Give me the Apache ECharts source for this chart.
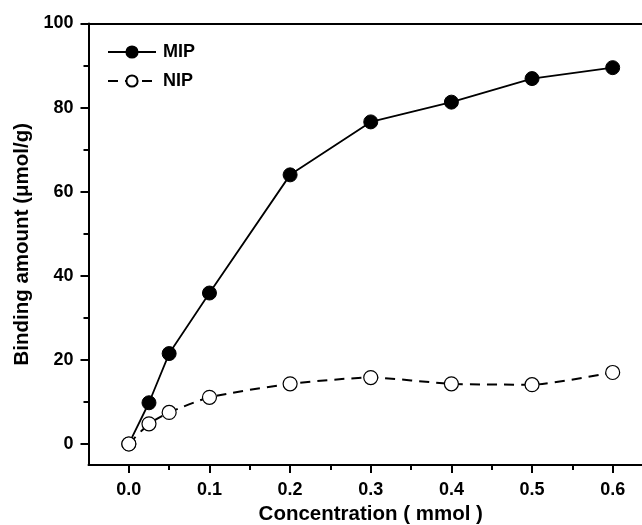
<!DOCTYPE html>
<html>
<head>
<meta charset="utf-8">
<script src="https://cdn.jsdelivr.net/npm/echarts@6/dist/echarts.min.js"></script>
<style>html,body{margin:0;padding:0;background:#fff}#c{width:642px;height:525px}</style>
</head>
<body>
<div id="c"></div>
<script>
const concentration = [0, 0.025, 0.05, 0.1, 0.2, 0.3, 0.4, 0.5, 0.6];
const mipValues = [0, 9.8, 21.5, 35.9, 64.0, 76.6, 81.3, 86.9, 89.5];
const nipValues = [0, 4.8, 7.5, 11.1, 14.3, 15.8, 14.3, 14.1, 17.0];
const xTicks = [0, 0.1, 0.2, 0.3, 0.4, 0.5, 0.6];
const xMinorTicks = [0.05, 0.15, 0.25, 0.35, 0.45, 0.55];
const yTicks = [0, 20, 40, 60, 80, 100];
const yMinorTicks = [10, 30, 50, 70, 90];

const pair = (xs, ys) => xs.map((x, i) => [x, ys[i]]);
const font = 'Liberation Sans, Arial, sans-serif';
const chart = echarts.init(document.getElementById('c'));
const baseX = {type: 'value', min: -0.05, max: 0.65, splitLine: {show: false}};
const baseY = {type: 'value', min: -5, max: 100, splitLine: {show: false}};
chart.setOption({
  animation: false,
  grid: {left: 88.5, top: 23.5, width: 564.5, height: 441.5, show: false,
         containLabel: false, outerBoundsMode: 'none'},
  legend: {
    orient: 'vertical', left: 102, top: 38, itemWidth: 48, itemHeight: 14, itemGap: 11,
    textStyle: {fontFamily: font, fontWeight: 'bold', fontSize: 18, color: '#000', padding: [0,0,0,2]},
    data: ['MIP', 'NIP']
  },
  xAxis: [
    Object.assign({}, baseX, {
      name: 'Concentration ( mmol )', nameLocation: 'middle', nameGap: 34,
      nameTextStyle: {fontFamily: font, fontWeight: 'bold', fontSize: 20.5, color: '#000'},
      axisLine: {onZero: false, lineStyle: {color: '#000', width: 2}},
      axisTick: {show: true, inside: false, length: 8, lineStyle: {color: '#000', width: 2}, customValues: xTicks},
      axisLabel: {fontFamily: font, fontWeight: 'bold', fontSize: 18, color: '#000', margin: 16, customValues: xTicks, formatter: v => v.toFixed(1)}
    }),
    Object.assign({}, baseX, {
      position: 'bottom', axisLine: {show: false, onZero: false},
      axisTick: {show: true, length: 5, lineStyle: {color: '#000', width: 2}, customValues: xMinorTicks},
      axisLabel: {show: false}
    }),
    Object.assign({}, baseX, {
      position: 'top', axisLine: {show: true, onZero: false, lineStyle: {color: '#000', width: 2}},
      axisTick: {show: false}, axisLabel: {show: false}
    })
  ],
  yAxis: [
    Object.assign({}, baseY, {
      name: 'Binding amount (μmol/g)', nameLocation: 'middle', nameGap: 53, nameRotate: 90,
      nameTextStyle: {fontFamily: font, fontWeight: 'bold', fontSize: 20.5, color: '#000'},
      axisLine: {show: true, onZero: false, lineStyle: {color: '#000', width: 2}},
      axisTick: {show: true, length: 8, lineStyle: {color: '#000', width: 2}, customValues: yTicks},
      axisLabel: {fontFamily: font, fontWeight: 'bold', fontSize: 18, color: '#000', margin: 15, customValues: yTicks}
    }),
    Object.assign({}, baseY, {
      position: 'left', axisLine: {show: false, onZero: false},
      axisTick: {show: true, length: 5, lineStyle: {color: '#000', width: 2}, customValues: yMinorTicks},
      axisLabel: {show: false}
    })
  ],
  series: [
    {
      name: 'MIP', type: 'line', data: pair(concentration, mipValues),
      symbol: 'circle', symbolSize: 14, z: 2,
      itemStyle: {color: '#000', borderColor: '#000', borderWidth: 1},
      lineStyle: {color: '#000', width: 1.8}
    },
    {
      name: 'NIP', type: 'line', data: pair(concentration, nipValues),
      symbol: 'circle', symbolSize: 14, smooth: 0.2, z: 3,
      itemStyle: {color: '#fff', borderColor: '#000', borderWidth: 1.2},
      lineStyle: {color: '#000', width: 2, type: [10, 7]}
    }
  ]
});
</script>
</body>
</html>
